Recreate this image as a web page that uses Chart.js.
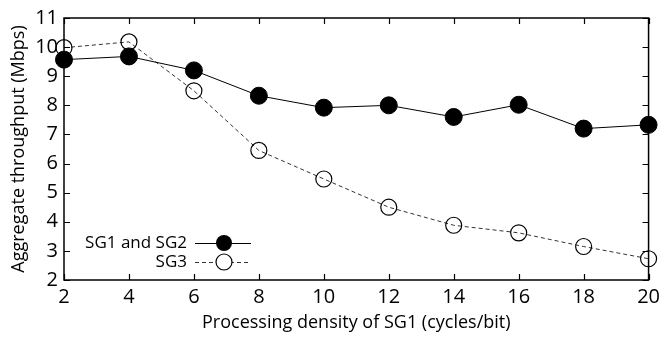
<!DOCTYPE html>
<html><head><meta charset="utf-8">
<script src="https://cdn.jsdelivr.net/npm/chart.js@4"></script>
<style>html,body{margin:0;padding:0;background:#fff}#wrap{width:665px;height:339px}</style>
</head><body><div id="wrap"><canvas id="c" width="665" height="339"></canvas></div>
<script>
const densities = [2, 4, 6, 8, 10, 12, 14, 16, 18, 20];
const sg12 = [9.57, 9.68, 9.2, 8.33, 7.92, 8.0, 7.6, 8.02, 7.2, 7.33];
const sg3 = [9.98, 10.18, 8.5, 6.45, 5.47, 4.5, 3.88, 3.62, 3.15, 2.73];
const seriesNames = ['SG1 and SG2', 'SG3'];
const xTicks = [2, 4, 6, 8, 10, 12, 14, 16, 18, 20];
const yTicks = [2, 3, 4, 5, 6, 7, 8, 9, 10, 11];
const FONT = '"Open Sans", "DejaVu Sans", sans-serif';

const frame = {
  id: 'frame',
  afterDatasetsDraw(chart) {
    const {ctx, chartArea: a, scales: {x, y}} = chart;
    ctx.save();
    ctx.strokeStyle = '#000';
    ctx.lineWidth = 1.5;
    ctx.strokeRect(a.left, a.top, a.right - a.left, a.bottom - a.top);
    ctx.lineWidth = 1.2;
    const L = 6;
    ctx.beginPath();
    xTicks.forEach(v => {
      const px = Math.round(x.getPixelForValue(v)) + 0.5;
      ctx.moveTo(px, a.bottom); ctx.lineTo(px, a.bottom - L);
      ctx.moveTo(px, a.top); ctx.lineTo(px, a.top + L);
    });
    yTicks.forEach(v => {
      const py = Math.round(y.getPixelForValue(v)) + 0.5;
      ctx.moveTo(a.left, py); ctx.lineTo(a.left + L, py);
      ctx.moveTo(a.right, py); ctx.lineTo(a.right - L, py);
    });
    ctx.stroke();
    // legend
    ctx.font = '17px ' + FONT;
    ctx.textAlign = 'right';
    ctx.textBaseline = 'middle';
    ctx.fillStyle = '#000';
    const rows = [{t: seriesNames[0], yy: 243, dash: [], fill: true}, {t: seriesNames[1], yy: 262, dash: [4, 3], fill: false}];
    rows.forEach(r => {
      ctx.fillText(r.t, 187, r.yy);
      ctx.setLineDash(r.dash);
      ctx.lineWidth = 1;
      ctx.strokeStyle = r.fill ? '#000' : '#333';
      ctx.beginPath(); ctx.moveTo(195, r.yy + 0.5); ctx.lineTo(251, r.yy + 0.5); ctx.stroke();
      ctx.setLineDash([]);
      ctx.beginPath(); ctx.arc(224, r.yy, 8, 0, Math.PI * 2);
      if (r.fill) { ctx.fillStyle = '#000'; ctx.fill(); }
      else { ctx.fillStyle = '#fff'; ctx.fill(); ctx.strokeStyle = '#000'; ctx.lineWidth = 1.2; ctx.stroke(); }
      ctx.fillStyle = '#000';
    });
    ctx.restore();
  }
};

new Chart(document.getElementById('c'), {
  type: 'line',
  data: {
    datasets: [
      {label: seriesNames[0], data: densities.map((d, i) => ({x: d, y: sg12[i]})),
       borderColor: '#000', borderWidth: 1, backgroundColor: '#000', pointBackgroundColor: '#000',
       pointBorderColor: '#000', pointRadius: 8.5, pointBorderWidth: 1, clip: false, tension: 0},
      {label: seriesNames[1], data: densities.map((d, i) => ({x: d, y: sg3[i]})),
       borderColor: '#333', borderWidth: 1, borderDash: [4, 3], pointBackgroundColor: 'rgba(255,255,255,0)',
       pointBorderColor: '#000', pointRadius: 8, pointBorderWidth: 1.2, clip: false, tension: 0}
    ]
  },
  options: {
    responsive: false, animation: false, devicePixelRatio: 1,
    layout: {padding: {left: 0, top: 10, right: 11, bottom: 0}},
    plugins: {legend: {display: false}, tooltip: {enabled: false}},
    scales: {
      x: {type: 'linear', min: 2, max: 20,
          afterBuildTicks: s => { s.ticks = xTicks.map(v => ({value: v})); },
          afterFit: s => { s.height = 59; },
          grid: {display: false, drawTicks: false}, border: {display: false},
          ticks: {color: '#000', font: {family: FONT, size: 20}, padding: 5, maxRotation: 0},
          title: {display: true, text: 'Processing density of SG1 (cycles/bit)', color: '#000', font: {family: FONT, size: 18}, padding: {top: 0, bottom: 5}}},
      y: {type: 'linear', min: 2, max: 11,
          afterBuildTicks: s => { s.ticks = yTicks.map(v => ({value: v})); },
          afterFit: s => { s.width = 64; },
          grid: {display: false, drawTicks: false}, border: {display: false},
          ticks: {color: '#000', font: {family: FONT, size: 20}, padding: 6},
          title: {display: true, text: 'Aggregate throughput (Mbps)', color: '#000', font: {family: FONT, size: 18}, padding: {top: 8, bottom: 0}}}
    }
  },
  plugins: [frame]
});
</script></body></html>
